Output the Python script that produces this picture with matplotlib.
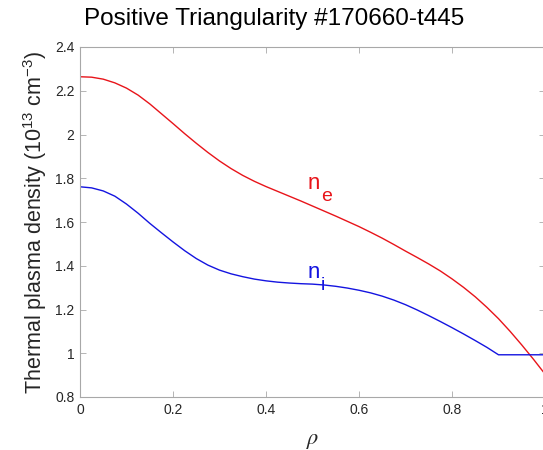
import matplotlib
matplotlib.use("Agg")
import matplotlib.pyplot as plt
from matplotlib.transforms import offset_copy

plt.rcParams['font.family'] = ['Liberation Sans', 'DejaVu Sans']
plt.rcParams['mathtext.fontset'] = 'custom'
plt.rcParams['mathtext.rm'] = 'Liberation Sans'
plt.rcParams['mathtext.it'] = 'Liberation Sans:italic'

# Normalised radius and density profiles (10^13 cm^-3)
rho_e = [0.000, 0.025, 0.050, 0.075, 0.100, 0.125, 0.150, 0.175, 0.200,
         0.225, 0.250, 0.275, 0.300, 0.325, 0.350, 0.375, 0.400, 0.425,
         0.450, 0.475, 0.500, 0.525, 0.550, 0.575, 0.600, 0.625, 0.650,
         0.675, 0.700, 0.725, 0.750, 0.775, 0.800, 0.825, 0.850, 0.875,
         0.900, 0.925, 0.950, 0.975, 1.000]
n_e = [2.264, 2.262, 2.253, 2.236, 2.212, 2.180, 2.140, 2.095, 2.050,
       2.004, 1.960, 1.918, 1.879, 1.844, 1.813, 1.786, 1.762, 1.740,
       1.718, 1.696, 1.673, 1.650, 1.627, 1.603, 1.579, 1.553, 1.526,
       1.497, 1.467, 1.438, 1.408, 1.376, 1.340, 1.301, 1.258, 1.210,
       1.158, 1.100, 1.038, 0.973, 0.905]

rho_i = [0.000, 0.025, 0.050, 0.075, 0.100, 0.125, 0.150, 0.175, 0.200,
         0.225, 0.250, 0.275, 0.300, 0.325, 0.350, 0.375, 0.400, 0.425,
         0.450, 0.475, 0.500, 0.525, 0.550, 0.575, 0.600, 0.625, 0.650,
         0.675, 0.700, 0.725, 0.750, 0.775, 0.800, 0.825, 0.850, 0.875,
         0.900, 1.000]
n_i = [1.761, 1.756, 1.742, 1.718, 1.682, 1.640, 1.594, 1.551, 1.509,
       1.469, 1.433, 1.403, 1.380, 1.363, 1.350, 1.339, 1.331, 1.325,
       1.321, 1.318, 1.316, 1.312, 1.306, 1.298, 1.288, 1.276, 1.261,
       1.243, 1.222, 1.198, 1.172, 1.145, 1.117, 1.088, 1.058, 1.027,
       0.993, 0.993]

x_ticks = [0, 0.2, 0.4, 0.6, 0.8, 1]
x_tick_labels = ['0', '0.2', '0.4', '0.6', '0.8', '1']
y_ticks = [0.8, 1.0, 1.2, 1.4, 1.6, 1.8, 2.0, 2.2, 2.4]
y_tick_labels = ['0.8', '1', '1.2', '1.4', '1.6', '1.8', '2', '2.2', '2.4']

RED = '#e8141a'
BLUE = '#1414e0'
AXIS_GREY = '#a8a8a8'
TEXT_GREY = '#262626'

W, H = 543, 450
fig = plt.figure(figsize=(W / 100, H / 100), dpi=100)
ax = fig.add_axes([80 / W, 53 / H, 465 / W, 350 / H])

ax.plot(rho_e, n_e, color=RED, lw=1.0)
ax.plot(rho_i, n_i, color=BLUE, lw=1.0)

ax.set_xlim(0, 1)
ax.set_ylim(0.8, 2.4)
ax.set_xticks(x_ticks)
ax.set_xticklabels(x_tick_labels)
ax.set_yticks(y_ticks)
ax.set_yticklabels(y_tick_labels)
ax.tick_params(direction='in', length=4, width=0.6, color=AXIS_GREY,
               labelcolor=TEXT_GREY, labelsize=10, top=True, right=True,
               pad=4)
for s in ax.spines.values():
    s.set_color(AXIS_GREY)
    s.set_linewidth(0.8)

# Species labels
def species_label(x, y, main, sub, color):
    ax.text(x, y, main, color=color, fontsize=16, va='baseline', ha='left')
    tr = offset_copy(ax.transData, fig=fig, x=13.4, y=-11.5, units='dots')
    ax.text(x, y, sub, color=color, fontsize=14, va='baseline', ha='left',
            transform=tr)

species_label(0.490, 1.749, 'n', 'e', RED)
species_label(0.490, 1.343, 'n', 'i', BLUE)

fig.text(274 / W, 1 - 19 / H, 'Positive Triangularity #170660-t445',
         ha='center', va='center', fontsize=17.5, color='black')
fig.text(35 / W, 1 - 222 / H,
         r'Thermal plasma density (10$^{13}$ cm$^{-3}$)',
         rotation=90, ha='center', va='center', fontsize=15.5,
         color=TEXT_GREY)
ax.set_xlabel(r'$\rho$', fontsize=16, color=TEXT_GREY,
              math_fontfamily='stix', labelpad=10)

fig.savefig('out.png', dpi=100)
